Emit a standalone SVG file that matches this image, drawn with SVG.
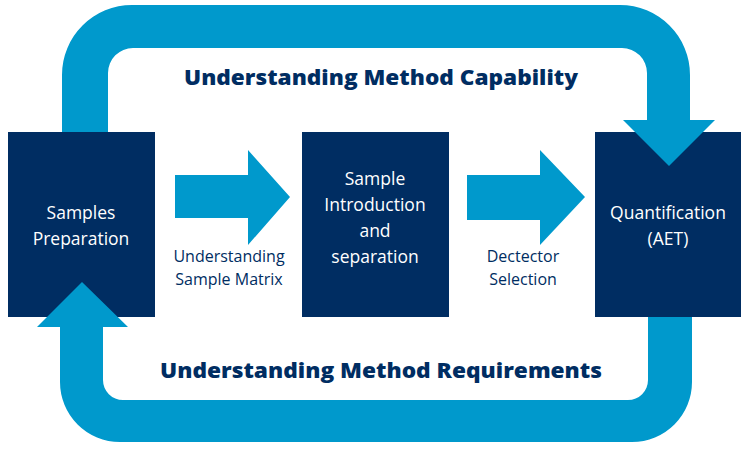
<svg xmlns="http://www.w3.org/2000/svg" width="750" height="450" viewBox="0 0 750 450">
<style>
.box{fill:#002d62}
.arr{fill:#0099cc}
.bt{font-family:"Open Sans","Liberation Sans",sans-serif;font-size:17.5px;fill:#fff;text-anchor:middle}
.lt{font-family:"Open Sans","Liberation Sans",sans-serif;font-size:16px;fill:#002d62;text-anchor:middle}
.hd{font-family:"Open Sans","Liberation Sans",sans-serif;font-size:21px;font-weight:800;fill:#002d62;text-anchor:middle}
</style>
<rect width="750" height="450" fill="#fff"/>
<g id="n1"><rect class="box" x="8" y="132" width="147" height="185"/>
<text class="bt" x="81" y="219">Samples</text><text class="bt" x="81" y="245">Preparation</text></g>
<g id="n2"><rect class="box" x="302" y="132" width="147" height="185"/>
<text class="bt" x="375" y="185">Sample</text><text class="bt" x="375" y="211">Introduction</text><text class="bt" x="375" y="237">and</text><text class="bt" x="375" y="263">separation</text></g>
<g id="n3"><rect class="box" x="595" y="132" width="146" height="185"/>
<text class="bt" x="668" y="219">Quantification</text><text class="bt" x="668" y="245">(AET)</text></g>
<g id="connectors">
<path class="arr" d="M62,132 V75 A70,70 0 0 1 132,5 H620 A70,70 0 0 1 690,75 V120 H715 L669,166 L623,120 H647 V73 A25,25 0 0 0 622,48 H133 A25,25 0 0 0 108,73 V132 Z"/>
<path class="arr" d="M692,317 V382 A60,60 0 0 1 632,442 H120 A60,60 0 0 1 60,382 V327 H37 L82,282 L128,327 H103 V380 A20,20 0 0 0 123,400 H628 A20,20 0 0 0 648,380 V317 Z"/>
<path class="arr" d="M175,175 H248 V150 L290,197 L248,245 V218 H175 Z"/>
<path class="arr" d="M467,175 H540 V150 L585,197 L540,245 V220 H467 Z"/>
</g>
<g id="labels">
<text class="lt" x="229" y="262">Understanding</text><text class="lt" x="229" y="285">Sample Matrix</text>
<text class="lt" x="523" y="262">Dectector</text><text class="lt" x="523" y="285">Selection</text>
<text class="hd" x="381" y="85" textLength="394" lengthAdjust="spacingAndGlyphs">Understanding Method Capability</text>
<text class="hd" x="381" y="378" textLength="442" lengthAdjust="spacingAndGlyphs">Understanding Method Requirements</text>
</g>
</svg>
